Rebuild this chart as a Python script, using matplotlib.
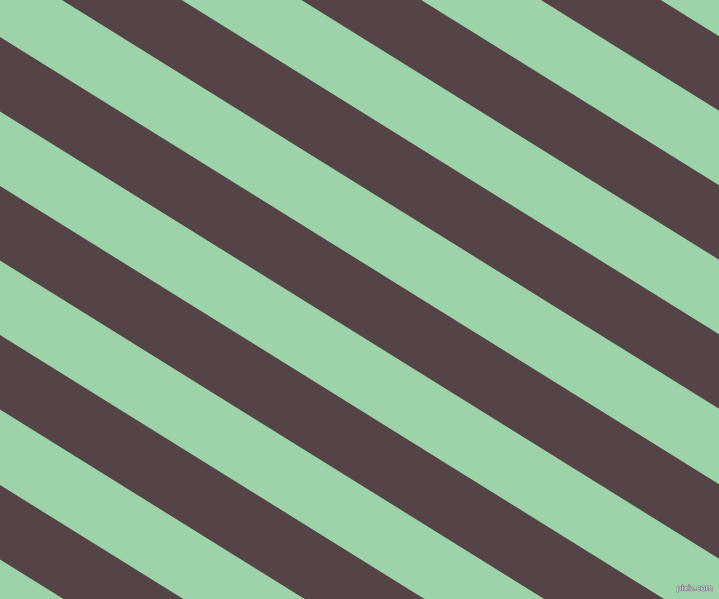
import numpy as np
import matplotlib
matplotlib.use("Agg")
import matplotlib.pyplot as plt
import matplotlib.patheffects as pe

# couleurs des bandes
green = "#9cd3a8"
brown = "#544446"

# bandes sombres : ordonnée du bord haut au bord gauche (px), hauteur verticale, pente
dark_starts = [-411, -262, -113, 37, 186, 335, 485]
band_height = 74.5
slope = 0.622

W, H = 719, 599

fig = plt.figure(figsize=(W / 100, H / 100), dpi=100)
ax = fig.add_axes([0, 0, 1, 1])
ax.set_facecolor(green)
ax.set_xlim(0, W)
ax.set_ylim(H, 0)
ax.axis("off")
fig.patch.set_facecolor(green)

x = np.array([0, W])
for c in dark_starts:
    ax.fill_between(x, slope * x + c, slope * x + c + band_height,
                    color=brown, linewidth=0)

ax.text(713, 588, "pixiz.com", fontsize=5.5, color="#d8d8d8",
        ha="right", va="center",
        path_effects=[pe.withStroke(linewidth=1, foreground="#8a8a8a")])

fig.savefig("out.png", dpi=100, facecolor=green)
